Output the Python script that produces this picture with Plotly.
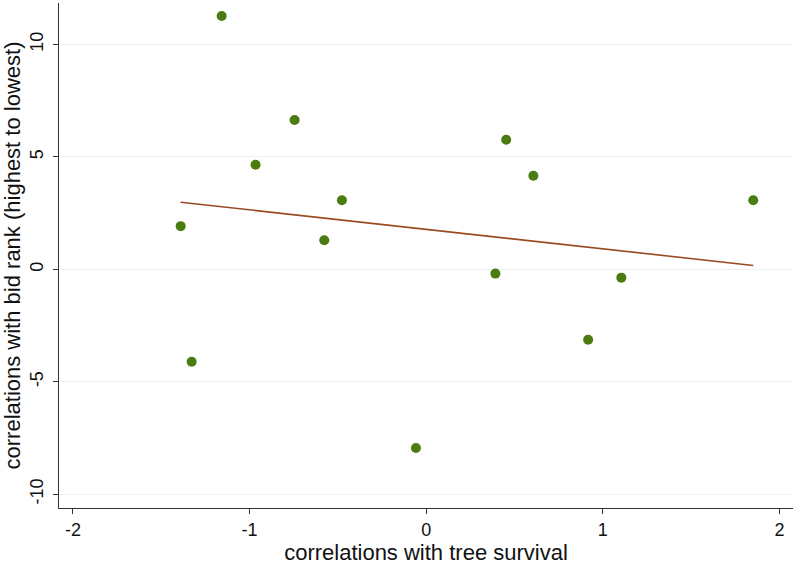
import numpy as np
import plotly.graph_objects as go

survival_corr = [-1.158, -0.745, -0.966, -0.477, -1.390, -0.577, 0.453, 0.607,
                 1.852, 0.392, 1.105, -1.328, 0.917, -0.058]
bid_rank_corr = [11.26, 6.64, 4.65, 3.07, 1.92, 1.29, 5.76, 4.16,
                 3.07, -0.19, -0.37, -4.11, -3.13, -7.94]
x_ticks = [-2, -1, 0, 1, 2]
x_tick_labels = ["-2", "-1", "0", "1", "2"]
y_ticks = [-10, -5, 0, 5, 10]
y_tick_labels = ["-10", "-5", "0", "5", "10"]

x = np.array(survival_corr)
y = np.array(bid_rank_corr)
slope, intercept = np.polyfit(x, y, 1)
fx = np.array([x.min(), x.max()])
fy = intercept + slope * fx

fig = go.Figure()
fig.add_trace(go.Scatter(x=fx, y=fy, mode="lines",
                         line=dict(color="#9a4a22", width=1.6), hoverinfo="skip"))
fig.add_trace(go.Scatter(x=x, y=y, mode="markers",
                         marker=dict(color="#4a7c10", size=10, line=dict(width=0))))

font = "Liberation Sans, Arial, Helvetica, sans-serif"
fig.update_layout(
    width=796, height=565,
    margin=dict(l=59, r=3, t=3, b=57),
    paper_bgcolor="white", plot_bgcolor="white",
    showlegend=False,
    font=dict(family=font, size=18, color="#111111"),
    xaxis=dict(range=[-2.079, 2.077], tickvals=x_ticks, ticktext=x_tick_labels,
               ticks="outside", ticklen=5, automargin=False,
               tickcolor="#333333", showline=True, linecolor="#333333", linewidth=1.3,
               showgrid=False, zeroline=False,
               title=dict(text="correlations with tree survival", standoff=2),
               tickfont=dict(size=18)),
    yaxis=dict(range=[-10.61, 11.84], tickvals=y_ticks, ticktext=y_tick_labels,
               ticks="outside", ticklen=5, automargin=False, ticklabelstandoff=3,
               tickcolor="#333333", showline=True, linecolor="#333333", linewidth=1.3,
               showgrid=True, gridcolor="#eaf2f3", gridwidth=1, zeroline=False,
               tickangle=-90,
               title=dict(text="correlations with bid rank (highest to lowest)", standoff=2),
               tickfont=dict(size=18)),
)
fig.write_html("out.html", config={"displayModeBar": False},
               post_script="document.body.style.margin='0';document.body.style.padding='0';")
